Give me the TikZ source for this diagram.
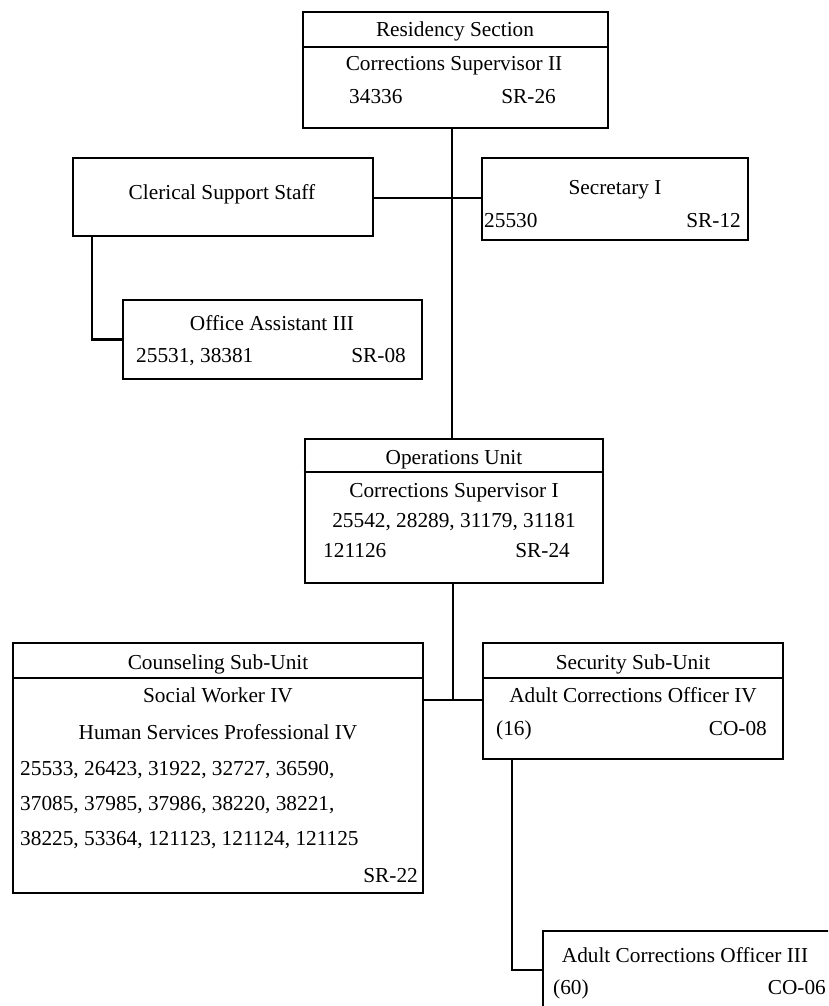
\documentclass[tikz,border=0pt]{standalone}
\usepackage{fontspec}
\setmainfont{Liberation Serif}
\begin{document}
\begin{tikzpicture}[x=1pt,y=-1pt,
  box/.style={draw=black,line width=2.6pt,rectangle,inner sep=0pt,fill=none},
  txt/.style={inner sep=0pt,font=\fontsize{21.3}{25}\selectfont,anchor=base},
  ltxt/.style={txt,anchor=base west},
  rtxt/.style={txt,anchor=base east},
  conn/.style={draw=black,line width=2.4pt},
  divl/.style={draw=black,line width=2.4pt}]
\useasboundingbox (0,0) rectangle (828,1006);
\clip (0,0) rectangle (828,1006);
% boxes
\node[box,minimum width=305pt,minimum height=116pt] (res) at (455.5,70) {};
\node[box,minimum width=300pt,minimum height=78pt] (cler) at (223,197) {};
\node[box,minimum width=266pt,minimum height=82pt] (sec) at (615,199) {};
\node[box,minimum width=299pt,minimum height=79pt] (oa) at (272.5,339.5) {};
\node[box,minimum width=298pt,minimum height=144pt] (ops) at (454,511) {};
\node[box,minimum width=410pt,minimum height=250pt] (cou) at (218,768) {};
\node[box,minimum width=300pt,minimum height=116pt] (secu) at (633,701) {};
\node[box,minimum width=317pt,minimum height=109pt] (aco) at (701.5,985.5) {};
% header dividers
\draw[divl] (res.west |- 0,47) -- (res.east |- 0,47);
\draw[divl] (ops.west |- 0,472) -- (ops.east |- 0,472);
\draw[divl] (cou.west |- 0,678) -- (cou.east |- 0,678);
\draw[divl] (secu.west |- 0,678) -- (secu.east |- 0,678);
% connector coordinates
\coordinate (tx) at (452,0);
\coordinate (cl) at (92,0);
\coordinate (j) at (453,700);
\coordinate (k) at (512,970);
% connectors
\draw[conn] (res.south -| tx) -- (ops.north -| tx);
\draw[conn] (cler.east |- 0,198) -- (sec.west |- 0,198);
\draw[conn] (cler.south -| cl) |- (oa.west);
\draw[conn] (ops.south -| j) -- (j);
\draw[conn] (cou.east |- j) -- (secu.west |- j);
\draw[conn] (secu.south -| k) |- (aco.west |- k);
% texts
\node[txt] (res1) at (455,37) {Residency Section};
\node[txt] (res2) at (454,71) {Corrections Supervisor II};
\node[ltxt] (res3) at (349,104) {34336};
\node[rtxt] (res4) at (556,104) {SR-26};
\node[txt] (cler1) at (222,199) {Clerical Support Staff};
\node[txt] (sec1) at (615,194) {Secretary I};
\node[ltxt] (sec2) at (484,227) {25530};
\node[rtxt] (sec3) at (741,227) {SR-12};
\node[txt] (oa1) at (272,330) {Office Assistant III};
\node[ltxt] (oa2) at (136,362) {25531, 38381};
\node[rtxt] (oa3) at (406,362) {SR-08};
\node[txt] (ops1) at (454,464) {Operations Unit};
\node[txt] (ops2) at (454,497) {Corrections Supervisor I};
\node[txt] (ops3) at (454,527) {25542, 28289, 31179, 31181};
\node[ltxt] (ops4) at (323,557) {121126};
\node[rtxt] (ops5) at (570,557) {SR-24};
\node[txt] (cou1) at (218,669) {Counseling Sub-Unit};
\node[txt] (cou2) at (218,702) {Social Worker IV};
\node[txt] (cou3) at (218,739) {Human Services Professional IV};
\node[ltxt] (cou4) at (20,775) {25533, 26423, 31922, 32727, 36590,};
\node[ltxt] (cou5) at (20,810) {37085, 37985, 37986, 38220, 38221,};
\node[ltxt] (cou6) at (20,845) {38225, 53364, 121123, 121124, 121125};
\node[rtxt] (cou7) at (418,882) {SR-22};
\node[txt] (secu1) at (633,669) {Security Sub-Unit};
\node[txt] (secu2) at (633,702) {Adult Corrections Officer IV};
\node[ltxt] (secu3) at (496,735) {(16)};
\node[rtxt] (secu4) at (767,735) {CO-08};
\node[txt] (aco1) at (685,962) {Adult Corrections Officer III};
\node[ltxt] (aco2) at (553,994) {(60)};
\node[rtxt] (aco3) at (826,994) {CO-06};
\end{tikzpicture}
\end{document}
